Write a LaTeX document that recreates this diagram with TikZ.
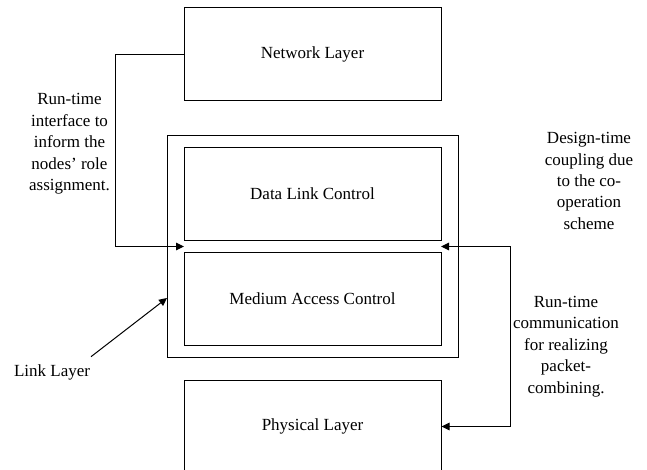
\documentclass[tikz,border=0pt]{standalone}
\usepackage{fontspec}
\setmainfont{Liberation Serif}
\usetikzlibrary{arrows.meta}
\begin{document}
\begin{tikzpicture}[x=1pt,y=-1pt,
  font=\fontsize{17pt}{21.4pt}\selectfont,
  layer/.style={draw,line width=1pt,minimum width=257pt,minimum height=93pt,inner sep=0pt},
  note/.style={align=center,inner sep=0pt},
  tip/.style={-{Triangle[length=8pt,width=7.5pt]},line width=1pt},
  tips/.style={{Triangle[length=8pt,width=7.5pt]}-{Triangle[length=8pt,width=7.5pt]},line width=1pt}]
\useasboundingbox (0,0) rectangle (647,470);
\clip (0,0) rectangle (647,470);

% protocol layers
\node[layer] (net) at (312.5,54.5) {Network Layer};
\node[draw,line width=1pt,minimum width=291pt,minimum height=221pt,inner sep=0pt] (link) at (312.5,246.5) {};
\node[layer] (dlc) at (312.5,193.7) {Data Link Control};
\node[layer] (mac) at (312.5,298.5) {Medium Access Control};
\node[layer] (phy) at (312.5,426.5) {Physical Layer};

% annotations
\node[note] (rtl) at (69.5,144) {Run-time\\interface to\\inform the\\nodes' role\\assignment.};
\node[note] (dtc) at (589,181) {Design-time\\coupling due\\to the co-\\operation\\scheme};
\node[note] (rtc) at (566,346.5) {Run-time\\communication\\for realizing\\packet-\\combining.};
\node[note] (ll) at (52,372.5) {Link Layer};

% connectors
\coordinate (gapL) at (184,246.5);
\coordinate (gapR) at (441,246.5);
\coordinate (rc) at (510,246.5);
\coordinate (llt) at (91,356.7);
\coordinate (lla) at (167,298);
\draw[tip] (net.west) -- ++(-68.3,0) |- (gapL);
\draw[tips] (gapR) -- (rc) |- (phy.east);
\draw[tip] (llt) -- (lla);
\end{tikzpicture}
\end{document}
